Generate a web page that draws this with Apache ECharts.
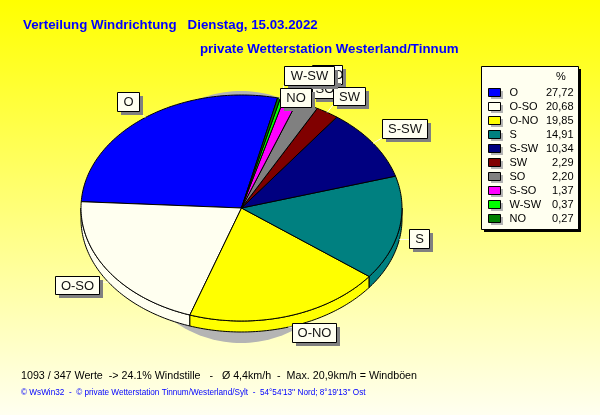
<!DOCTYPE html>
<html><head><meta charset="utf-8">
<style>html,body{margin:0;padding:0;background:#fff;overflow:hidden}#c{width:600px;height:415px}</style>
<script src="https://cdn.jsdelivr.net/npm/echarts@6/dist/echarts.min.js"></script>
</head><body><div id="c"></div>
<script>
const categories = ['O','O-SO','O-NO','S','S-SW','SW','SO','S-SO','W-SW','NO'];
const percentValues = [27.72,20.68,19.85,14.91,10.34,2.29,2.20,1.37,0.37,0.27];
const sliceColors = ['#0000FF','#FFFFF0','#FFFF00','#008080','#000080','#800000','#808080','#FF00FF','#00FF00','#008000'];
const titleLine = 'Verteilung Windrichtung   Dienstag, 15.03.2022';
const subtitleLine = 'private Wetterstation Westerland/Tinnum';
const statsLine = '1093 / 347 Werte  -> 24.1% Windstille   -   Ø 4,4km/h  -  Max. 20,9km/h = Windböen';
const footerLine = "© WsWin32  -  © private Wetterstation Tinnum/Westerland/Sylt  -  54°54'13'' Nord; 8°19'13'' Ost";

const PIE = {cx:241.5, cy:208, rx:160.5, ry:113, depth:11, start:77};
const SHADOW = {cx:241, cy:217, rx:120, ry:126};
const PANEL = {x:481,y:66,w:97,h:163,iconX:488,firstRow:92,rowStep:14};
const labelOrder = ['O','O-SO','O-NO','S','S-SW','S-SO','SO','SW','W-SW','NO'];
const labelBoxes = {
  'O':[117,92,22,19],'O-SO':[55,276,44,18],'O-NO':[292,323,44,19],'S':[409,229,20,19],
  'S-SW':[382,119,45,19],'SW':[333,87,32,18],'SO':[312,79,25,19],'S-SO':[312,65,30,19],
  'W-SW':[284,66,50,19],'NO':[280,88,31,19]
};

const total = percentValues.reduce((a,b)=>a+b,0);
const pt = (deg,dy)=>{const r=deg*Math.PI/180;return [PIE.cx+PIE.rx*Math.cos(r),PIE.cy-PIE.ry*Math.sin(r)+(dy||0)];};
function arc(a0,a1,dy){const n=Math.max(2,Math.ceil(Math.abs(a1-a0)));const o=[];for(let i=0;i<=n;i++)o.push(pt(a0+(a1-a0)*i/n,dy));return o;}
function bounds(i){let s=PIE.start;for(let k=0;k<i;k++)s+=percentValues[k]/total*360;return [s,s+percentValues[i]/total*360];}

const series=[];
series.push({type:'custom',name:'shadow',coordinateSystem:'none',silent:true,z:1,data:[[1]],
  renderItem(){const p=[];for(let d=0;d<360;d+=2){const r=d*Math.PI/180;p.push([SHADOW.cx+SHADOW.rx*Math.cos(r),SHADOW.cy-SHADOW.ry*Math.sin(r)]);}
    return {type:'polygon',shape:{points:p},style:{fill:'#B4B4B4'}};}});
series.push({type:'custom',name:'legend panel',coordinateSystem:'none',silent:true,z:1,data:[[1]],
  renderItem(){const ch=[
      {type:'rect',shape:{x:PANEL.x+3,y:PANEL.y+3,width:PANEL.w,height:PANEL.h},style:{fill:'#000'}},
      {type:'rect',shape:{x:PANEL.x+.5,y:PANEL.y+.5,width:PANEL.w,height:PANEL.h},style:{fill:'#FFFFF0',stroke:'#000',lineWidth:1}}];
    categories.forEach((c,i)=>ch.push({type:'rect',shape:{x:PANEL.iconX+3,y:PANEL.firstRow+PANEL.rowStep*i-4+3,width:12,height:8},style:{fill:'#B4B4B4'}}));
    return {type:'group',children:ch};}});
categories.forEach((name,i)=>{
  series.push({type:'custom',name:'rim '+name,coordinateSystem:'none',silent:true,z:2,data:[[percentValues[i]]],
    renderItem(){let [a,b]=bounds(i);
      const r=[Math.max(a,180),Math.min(b,360)];
      if(r[1]<=r[0]) return {type:'group',children:[]};
      const top=arc(r[0],r[1],0),bot=arc(r[1],r[0],PIE.depth);
      return {type:'polygon',shape:{points:top.concat(bot)},style:{fill:sliceColors[i],stroke:'#000',lineWidth:1}};}});
});
categories.forEach((name,i)=>{
  series.push({type:'custom',name:name,coordinateSystem:'none',silent:true,z:3,data:[[percentValues[i]]],
    itemStyle:{color:sliceColors[i]},
    renderItem(){const [a,b]=bounds(i);
      return {type:'polygon',shape:{points:[[PIE.cx,PIE.cy]].concat(arc(a,b,0))},style:{fill:sliceColors[i],stroke:'#000',lineWidth:1}};}});
});
series.push({type:'custom',name:'labels',coordinateSystem:'none',silent:true,z:5,
  data:labelOrder.map(n=>[categories.indexOf(n)]),
  renderItem(params,api){const i=api.value(0),name=categories[i],[x,y,w,h]=labelBoxes[name];
    const [a,b]=bounds(i),e=pt((a+b)/2,(a+b)/2>180&&(a+b)/2<360?PIE.depth:0);
    const tx=Math.max(x,Math.min(x+w,e[0])),ty=Math.max(y,Math.min(y+h,e[1]));
    return {type:'group',children:[
      {type:'line',shape:{x1:e[0],y1:e[1],x2:tx,y2:ty},style:{stroke:'#FFFFF0',lineWidth:1}},
      {type:'rect',shape:{x:x+4,y:y+4,width:w,height:h},style:{fill:'#808080'}},
      {type:'rect',shape:{x:x+.5,y:y+.5,width:w,height:h},style:{fill:'#FFFFF0',stroke:'#000',lineWidth:1}},
      {type:'text',x:x+w/2+.5,y:y+h/2+1,style:{text:name,fill:'#111',font:'13px "Liberation Sans"',align:'center',verticalAlign:'middle'}}
    ]};}});

const chart=echarts.init(document.getElementById('c'),null,{renderer:'canvas'});
chart.setOption({
  animation:false,
  backgroundColor:{type:'linear',x:0,y:0,x2:0,y2:1,colorStops:[{offset:0,color:'#FFFF00'},{offset:1,color:'#FFFFF0'}]},
  title:[
    {text:titleLine,left:23,top:19,padding:0,textStyle:{color:'#0000FF',fontFamily:'Liberation Sans',fontSize:13.3,fontWeight:'bold'}},
    {text:subtitleLine,left:200,top:43,padding:0,textStyle:{color:'#0000FF',fontFamily:'Liberation Sans',fontSize:13.3,fontWeight:'bold'}},
    {text:statsLine,left:21,top:371,padding:0,textStyle:{color:'#000',fontFamily:'Liberation Sans',fontSize:10.7,fontWeight:'normal'}},
    {text:footerLine,left:21,top:389,padding:0,textStyle:{color:'#0000FF',fontFamily:'Liberation Sans',fontSize:8.2,fontWeight:'normal'}},
    {text:'%',left:556,top:71,padding:0,z:8,textStyle:{color:'#000',fontFamily:'Liberation Sans',fontSize:11,fontWeight:'normal'}}
  ],
  legend:{
    orient:'vertical',left:481,top:66,padding:[21,5,5,7],itemGap:3,itemWidth:12,itemHeight:8,icon:'rect',
    selectedMode:false,data:categories,
    itemStyle:{borderColor:'#000',borderWidth:1},
    formatter:n=>`{n|${n}}{v|${percentValues[categories.indexOf(n)].toFixed(2).replace('.',',')}}`,
    textStyle:{rich:{
      n:{width:34,padding:[0,0,0,4],align:'left',fontSize:11,fontFamily:'Liberation Sans',color:'#000'},
      v:{width:30,align:'right',fontSize:11,fontFamily:'Liberation Sans',color:'#000'}}}
  },
  series
});
</script></body></html>
